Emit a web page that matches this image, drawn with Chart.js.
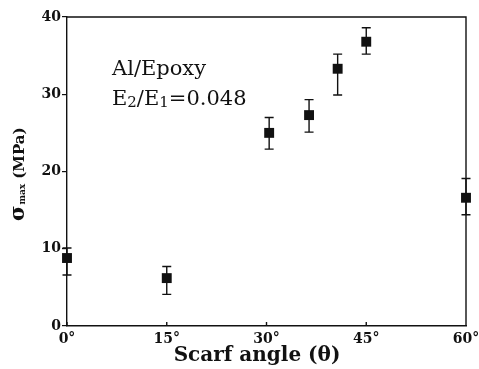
<!DOCTYPE html>
<html>
<head>
<meta charset="utf-8">
<script src="https://cdn.jsdelivr.net/npm/chart.js@4/dist/chart.umd.min.js"></script>
<style>
  html, body { margin: 0; padding: 0; background: #fff; }
  #wrap { width: 479px; height: 369px; }
</style>
</head>
<body>
<div id="wrap"><canvas id="c" width="479" height="369"></canvas></div>
<script>
// Scarf-joint strength, Al/Epoxy, mean with scatter band
const scarfAngles = [0, 15, 30.4, 36.4, 40.7, 45, 60];
const sigmaMax   = [8.8, 6.2, 25.0, 27.3, 33.3, 36.8, 16.6];
const errUpper   = [10.1, 7.7, 27.0, 29.3, 35.2, 38.6, 19.1];
const errLower   = [6.6, 4.1, 22.9, 25.1, 29.9, 35.2, 14.4];
const xTicks = [0, 15, 30, 45, 60];
const yTicks = [0, 10, 20, 30, 40];

const INK = '#111';
const SERIF = '"DejaVu Serif", "Liberation Serif", serif';

// Vertical scatter bars with caps, placed through the chart's own scales
const errorBars = {
  id: 'errorBars',
  beforeDatasetsDraw(chart) {
    const { ctx, scales: { x, y } } = chart;
    ctx.save();
    ctx.strokeStyle = INK;
    ctx.lineWidth = 1.4;
    const cap = 4.5;
    scarfAngles.forEach((a, i) => {
      const px = x.getPixelForValue(a);
      const top = y.getPixelForValue(errUpper[i]);
      const bot = y.getPixelForValue(errLower[i]);
      ctx.beginPath();
      ctx.moveTo(px, top); ctx.lineTo(px, bot);
      ctx.moveTo(px - cap, top); ctx.lineTo(px + cap, top);
      ctx.moveTo(px - cap, bot); ctx.lineTo(px + cap, bot);
      ctx.stroke();
    });
    ctx.restore();
  }
};

// Frame: top/right borders, inward x ticks, titles and the material note
const frame = {
  id: 'frame',
  afterDraw(chart) {
    const { ctx, chartArea: a, scales: { x } } = chart;
    ctx.save();
    ctx.strokeStyle = INK;
    ctx.lineWidth = 1.4;
    ctx.beginPath();
    ctx.moveTo(a.left, a.top); ctx.lineTo(a.right, a.top); ctx.lineTo(a.right, a.bottom);
    xTicks.forEach(v => {
      const px = x.getPixelForValue(v);
      ctx.moveTo(px, a.bottom); ctx.lineTo(px, a.bottom - 4);
    });
    ctx.stroke();

    ctx.fillStyle = INK;
    ctx.textBaseline = 'alphabetic';

    // note inside the plot
    ctx.font = '21px ' + SERIF;
    ctx.textAlign = 'left';
    ctx.fillText('Al/Epoxy', 112, 75);
    let cx = 112;
    const big = '21px ' + SERIF, small = '15px ' + SERIF;
    const parts = [['E', big, 0], ['2', small, 2], ['/E', big, 0], ['1', small, 2], ['=0.048', big, 0]];
    parts.forEach(([t, f, dy]) => {
      ctx.font = f;
      ctx.fillText(t, cx, 105 + dy);
      cx += ctx.measureText(t).width;
    });

    // x axis title
    ctx.font = 'bold 20px ' + SERIF;
    ctx.textAlign = 'center';
    ctx.fillText('Scarf angle (\u03b8)', 257, 361);

    // y axis title, rotated
    ctx.translate(24, 221);
    ctx.rotate(-Math.PI / 2);
    ctx.textAlign = 'left';
    let tx = 0;
    ctx.font = 'bold 21px ' + SERIF;
    ctx.fillText('\u03c3', tx, 0);
    tx += ctx.measureText('\u03c3').width + 1;
    ctx.font = 'bold 9px ' + SERIF;
    ctx.fillText('max', tx, 1);
    tx += ctx.measureText('max').width + 5;
    ctx.font = 'bold 15px ' + SERIF;
    ctx.fillText('(MPa)', tx, 0);
    ctx.restore();
  }
};

new Chart(document.getElementById('c'), {
  type: 'scatter',
  data: {
    datasets: [{
      data: scarfAngles.map((a, i) => ({ x: a, y: sigmaMax[i] })),
      clip: false,
      pointStyle: 'rect',
      pointRadius: 7,
      pointHoverRadius: 7,
      backgroundColor: INK,
      borderColor: INK,
      borderWidth: 0
    }]
  },
  options: {
    responsive: false,
    devicePixelRatio: 1,
    animation: false,
    events: [],
    layout: { padding: { left: 0, right: 13, top: 17, bottom: 0 } },
    plugins: { legend: { display: false }, tooltip: { enabled: false } },
    scales: {
      x: {
        type: 'linear',
        min: 0, max: 60,
        afterBuildTicks: s => { s.ticks = xTicks.map(v => ({ value: v })); },
        afterFit: s => { s.height = 43; s.paddingLeft = 0; s.paddingRight = 0; },
        grid: { display: true, drawOnChartArea: false, drawTicks: false },
        border: { display: true, color: INK, width: 1.4 },
        ticks: {
          padding: 5,
          maxRotation: 0,
          color: INK,
          font: { family: SERIF, size: 14, weight: 'bold' },
          callback: v => v + '\u00b0'
        }
      },
      y: {
        type: 'linear',
        min: 0, max: 40,
        afterBuildTicks: s => { s.ticks = yTicks.map(v => ({ value: v })); },
        afterFit: s => { s.width = 67; s.paddingTop = 0; s.paddingBottom = 0; },
        grid: { display: true, drawOnChartArea: false, drawTicks: true, tickLength: 5, color: INK, lineWidth: 1.2 },
        border: { display: true, color: INK, width: 1.4 },
        ticks: {
          padding: 1,
          color: INK,
          font: { family: SERIF, size: 14, weight: 'bold' }
        }
      }
    }
  },
  plugins: [errorBars, frame]
});
</script>
</body>
</html>
